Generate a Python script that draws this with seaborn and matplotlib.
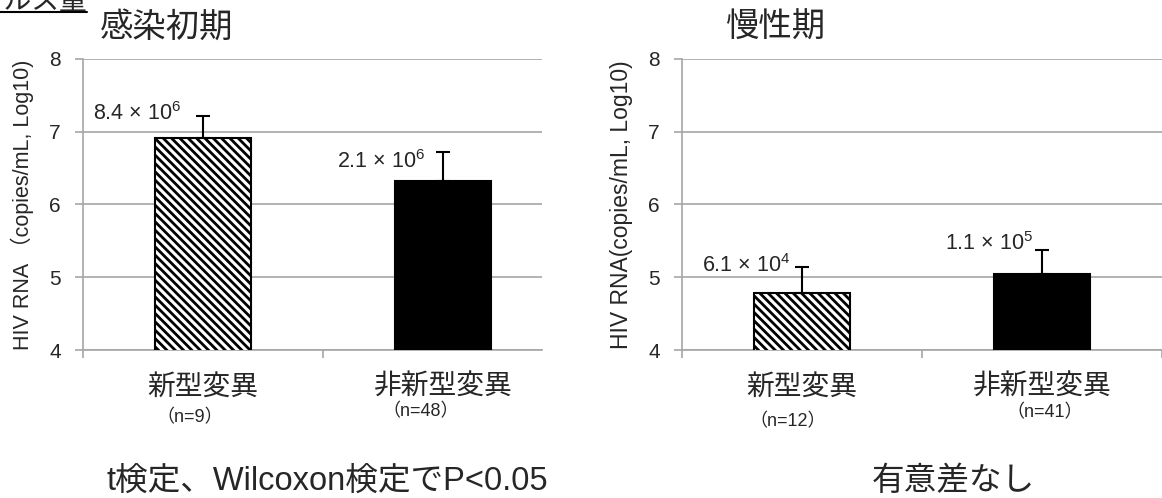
import numpy as np
import pandas as pd
import matplotlib.pyplot as plt
from matplotlib.lines import Line2D
import seaborn as sns

# STEP 1: THEME AND FONTS
sns.set_theme(style="white")
plt.rcParams['font.family'] = ['Liberation Sans', 'Noto Sans CJK JP', 'DejaVu Sans']
plt.rcParams['mathtext.fontset'] = 'custom'
plt.rcParams['mathtext.rm'] = 'Liberation Sans'
plt.rcParams['hatch.linewidth'] = 2.0
plt.rcParams['hatch.color'] = 'black'

# STEP 2: DATA (log10 of mean HIV RNA, upper error)
groups = ['新型変異', '非新型変異']
early_values = [6.92, 6.32]
early_err = [0.29, 0.40]
early_labels = ['8.4 × 10$^{6}$', '2.1 × 10$^{6}$']
early_n = ['（n=9）', '（n=48）']

chronic_values = [4.79, 5.04]
chronic_err = [0.35, 0.34]
chronic_labels = ['6.1 × 10$^{4}$', '1.1 × 10$^{5}$']
chronic_n = ['（n=12）', '（n=41）']

titles = ['感染初期', '慢性期']
ylabels = ['HIV RNA （copies/mL, Log10)', 'HIV RNA(copies/mL, Log10)']
notes = ['t検定、Wilcoxon検定でP<0.05', '有意差なし']

W, H = 1162, 498
fig = plt.figure(figsize=(W / 100, H / 100), dpi=100)

def px_axes(x0, y0, x1, y1):
    return fig.add_axes([x0 / W, 1 - y1 / H, (x1 - x0) / W, (y1 - y0) / H])

ax1 = px_axes(83, 59, 542, 350)
ax2 = px_axes(682, 59, 1162, 350)

# layout: xlim max, divider ticks, label offsets, n-label offsets, title x, ylabel size
panels = [
    (ax1, early_values, early_err, early_labels, early_n, 1.4125, [-0.5, 0.5],
     [(-0.09, 7.25), (-0.075, 6.59)], [(-0.054, 0.234), (-0.094, 0.213)], 0.037, 15.5),
    (ax2, chronic_values, chronic_err, chronic_labels, chronic_n, 1.5, [-0.5, 0.5, 1.5],
     [(-0.05, 5.16), (-0.038, 5.47)], [(-0.058, 0.247), (0.012, 0.216)], 0.09, 16.5),
]

gray = '#a6a6a6'
for i, (ax, vals, errs, labs, ns, xmax, divs, lab_pos, n_pos, tx, ylsize) in enumerate(panels):
    df = pd.DataFrame({'group': groups, 'value': vals})
    sns.barplot(data=df, x='group', y='value', order=groups, width=0.4,
                color='black', edgecolor='black', linewidth=1.5, ax=ax, zorder=3)
    # first bar hatched, second solid black
    ax.patches[0].set_facecolor('white')
    ax.patches[0].set_hatch('\\\\\\\\')
    ax.errorbar(range(len(groups)), vals, yerr=[np.zeros(len(errs)), errs],
                fmt='none', ecolor='black', elinewidth=1.5, capsize=5,
                capthick=1.5, zorder=4)

    ax.set_yticks([4, 5, 6, 7, 8])
    ax.set_xticks(divs, minor=True)
    ax.set_ylim(4, 8)
    ax.set_xlim(-0.5, xmax)
    ax.yaxis.grid(True, color=gray, linewidth=1.2)
    ax.set_axisbelow(True)
    sns.despine(ax=ax, top=True, right=True)
    for s in ['left', 'bottom']:
        ax.spines[s].set_color(gray)
        ax.spines[s].set_linewidth(1.2)
    ax.tick_params(axis='y', direction='out', length=6, width=1.2, color=gray,
                   labelsize=15, pad=10, left=True)
    ax.tick_params(axis='x', which='minor', direction='out', length=6,
                   width=1.2, color=gray, bottom=True)
    ax.tick_params(axis='x', which='major', length=0, labelsize=20, pad=18)
    ax.set_xlabel('')
    ax.set_ylabel(ylabels[i], fontsize=ylsize, labelpad=11)
    ax.set_title(titles[i], fontsize=24, loc='left', pad=16, x=tx)

    for j, (dx, y) in enumerate(lab_pos):
        ax.text(j + dx, y, labs[j], ha='right', va='center', fontsize=15.5)
    for j, (dx, yf) in enumerate(n_pos):
        ax.text(j + dx, -yf, ns[j], ha='center', va='center', fontsize=13,
                transform=ax.get_xaxis_transform())

fig.text(327 / W, 1 - 481 / H, notes[0], ha='center', va='center', fontsize=23.5)
fig.text(953 / W, 1 - 481 / H, notes[1], ha='center', va='center', fontsize=23.5)

# clipped heading from the slide above
fig.text(87 / W, 1 - 9 / H, 'ウイルス量', ha='right', va='baseline', fontsize=20)
fig.add_artist(Line2D([0, 87 / W], [1 - 12 / H, 1 - 12 / H], color='black',
                      linewidth=1.5, transform=fig.transFigure))

plt.savefig('out.png', dpi=100)
